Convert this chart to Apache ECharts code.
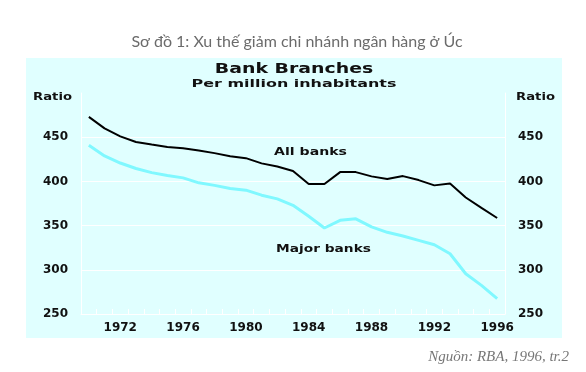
<!DOCTYPE html>
<html>
<head>
<meta charset="utf-8">
<script src="https://cdn.jsdelivr.net/npm/echarts@6/dist/echarts.min.js"></script>
<style>
html,body{margin:0;padding:0;background:#fff;}
#c{width:586px;height:372px;}
</style>
</head>
<body>
<div id="c"></div>
<script>
var years = ['1970','1971','1972','1973','1974','1975','1976','1977','1978','1979','1980','1981','1982','1983','1984','1985','1986','1987','1988','1989','1990','1991','1992','1993','1994','1995','1996'];
var allBanks = [473,460,451,444.5,441.7,439,437.6,435,432,428.5,426.3,420.4,416.8,411.8,397,397,410.5,410.5,405.7,402.6,406,401.5,395.5,397.7,381.8,370,358.6];
var majorBanks = [440.9,428.8,420.8,414.6,409.9,406.6,404,398.4,395.5,392,390.1,384.4,380.2,373,360.6,347.3,356,357.7,348.6,342.4,338.2,333.3,328.4,318.2,295.5,282.4,267.5];
var yTicks = [250,300,350,400,450];

var chart = echarts.init(document.getElementById('c'));
var lblFont = {color:'#111', fontFamily:'DejaVu Sans', fontWeight:'bold', fontSize:12};
function yAxis(pos){
  return {
    type:'value', position:pos, min:250, max:500, interval:50,
    axisLine:{show:true, lineStyle:{color:'#fff', width:1}},
    axisTick:{show:false},
    splitLine:{show:pos==='left', lineStyle:{color:['#fff','#fff','#fff','#fff','#fff','rgba(0,0,0,0)'], width:1}},
    axisLabel:Object.assign({margin:13, showMaxLabel:false, formatter:function(v){return yTicks.indexOf(v)>=0?String(v):'';}}, lblFont)
  };
}
function txt(t, x, y, sx, size, extra){
  return Object.assign({type:'text', x:x, y:y, scaleX:sx, z:50,
    style:{text:t, textAlign:'center', textVerticalAlign:'middle',
      font:'bold '+size+'px "DejaVu Sans"', fill:'#111'}}, extra||{});
}
chart.setOption({
  animation:false,
  backgroundColor:'#fff',
  grid:{left:81, right:81, top:93, bottom:58, containLabel:false},
  xAxis:{
    type:'category', data:years, boundaryGap:true,
    axisLine:{show:true, lineStyle:{color:'#fff'}},
    axisTick:{show:true, inside:true, length:5, interval:0, lineStyle:{color:'#fff'}},
    axisLabel:Object.assign({margin:8, interval:function(i){return (i-2)%4===0;}}, lblFont),
    splitLine:{show:false}
  },
  yAxis:[yAxis('left'), yAxis('right')],
  series:[
    {type:'line', name:'All banks', data:allBanks, yAxisIndex:0, symbol:'none', lineStyle:{color:'#000', width:2}, itemStyle:{color:'#000'}, z:3},
    {type:'line', name:'Major banks', data:majorBanks, yAxisIndex:0, symbol:'none', lineStyle:{color:'#80f8ff', width:3}, itemStyle:{color:'#80f8ff'}, z:2}
  ],
  graphic:[
    {type:'rect', z:-10, shape:{x:26, y:58, width:536, height:280}, style:{fill:'#e0ffff'}},
    {type:'text', x:297, y:42, z:50, style:{text:'Sơ đồ 1: Xu thế giảm chi nhánh ngân hàng ở Úc', textAlign:'center', textVerticalAlign:'middle', font:'16px Lato', fill:'#6b6b6b'}},
    txt('Bank Branches', 294, 69, 1.35, 14),
    txt('Per million inhabitants', 294, 84, 1.45, 11),
    txt('Ratio', 52.5, 97, 1.2, 11),
    txt('Ratio', 535.5, 97, 1.2, 11),
    txt('All banks', 310.5, 152, 1.28, 11),
    txt('Major banks', 323.5, 249, 1.25, 11),
    {type:'text', x:569, y:357, z:50, style:{text:'Nguồn: RBA, 1996, tr.2', textAlign:'right', textVerticalAlign:'middle', font:'italic 15px "Liberation Serif"', fill:'#777'}}
  ]
});
</script>
</body>
</html>
